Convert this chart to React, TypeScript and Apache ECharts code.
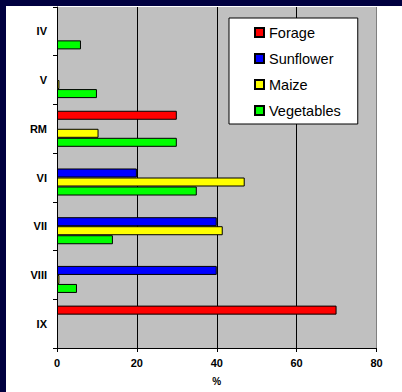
import React, { useEffect, useRef } from "react";
import * as echarts from "echarts";

const categories = ["IV", "V", "RM", "VI", "VII", "VIII", "IX"];
const forage = [0, 0, 30, 0, 0, 0, 70];
const sunflower = [0, 0, 0, 20, 40, 40, 0];
const maize = [0, 0.6, 10.4, 47, 41.5, 0.6, 0];
const vegetables = [6, 10, 30, 35, 14, 5, 0];
const xTicks = [0, 20, 40, 60, 80];

const FONT = 'Arial, "Liberation Sans", sans-serif';

export default function App() {
  const ref = useRef<HTMLDivElement>(null);
  useEffect(() => {
    if (!ref.current) return;
    const chart = echarts.init(ref.current, undefined, { renderer: "svg" });
    const mk = (name: string, data: number[], color: string) => ({
      name,
      type: "bar",
      data: data.map((v) => (v === 0 ? null : v)),
      barGap: "0%",
      barCategoryGap: "26%",
      itemStyle: { color, borderColor: "#000", borderWidth: 1 },
    });
    chart.setOption({
      animation: false,
      backgroundColor: "#000040",
      graphic: [
        {
          type: "rect",
          z: -10,
          shape: { x: 6, y: 6, width: 396, height: 386 },
          style: { fill: "#ffffff" },
        },
      ],
      grid: {
        left: 57,
        top: 7,
        right: 25.5,
        bottom: 44,
        show: true,
        backgroundColor: "#c0c0c0",
        borderWidth: 0,
      },
      legend: {
        orient: "vertical",
        left: 229,
        top: 18,
        backgroundColor: "#ffffff",
        borderColor: "#000",
        borderWidth: 1,
        padding: [7, 17, 6, 25],
        itemWidth: 9,
        itemHeight: 9,
        itemGap: 11,
        icon: "rect",
        textStyle: { fontFamily: FONT, fontSize: 14.5, color: "#000", padding: [0, 0, 0, 0] },
        data: ["Forage", "Sunflower", "Maize", "Vegetables"],
      },
      xAxis: {
        type: "value",
        min: xTicks[0],
        max: xTicks[xTicks.length - 1],
        interval: 20,
        name: "%",
        nameLocation: "middle",
        nameGap: 28,
        nameTextStyle: { fontFamily: FONT, fontSize: 10, fontWeight: "bold", color: "#000" },
        axisLine: { show: true, lineStyle: { color: "#000", width: 1 } },
        axisTick: { show: true, length: 4, lineStyle: { color: "#000" } },
        axisLabel: { fontFamily: FONT, fontSize: 11, fontWeight: "bold", color: "#000", margin: 9 },
        splitLine: {
          show: true,
          lineStyle: { color: ["#000", "#000", "#000", "#000", "#808080"], width: 1 },
        },
      },
      yAxis: {
        type: "category",
        inverse: true,
        data: categories,
        axisLine: { show: true, lineStyle: { color: "#000", width: 1 } },
        axisTick: { show: true, length: 4, alignWithLabel: false, lineStyle: { color: "#000" } },
        axisLabel: { fontFamily: FONT, fontSize: 11, fontWeight: "bold", color: "#000", margin: 10 },
        splitLine: { show: false },
      },
      series: [
        mk("Forage", forage, "#ff0000"),
        mk("Sunflower", sunflower, "#0000ff"),
        mk("Maize", maize, "#ffff00"),
        mk("Vegetables", vegetables, "#00ff00"),
      ],
    });
    return () => chart.dispose();
  }, []);
  return (
    <div
      ref={ref}
      style={{ position: "fixed", left: 0, top: 0, width: 402, height: 392 }}
    />
  );
}
